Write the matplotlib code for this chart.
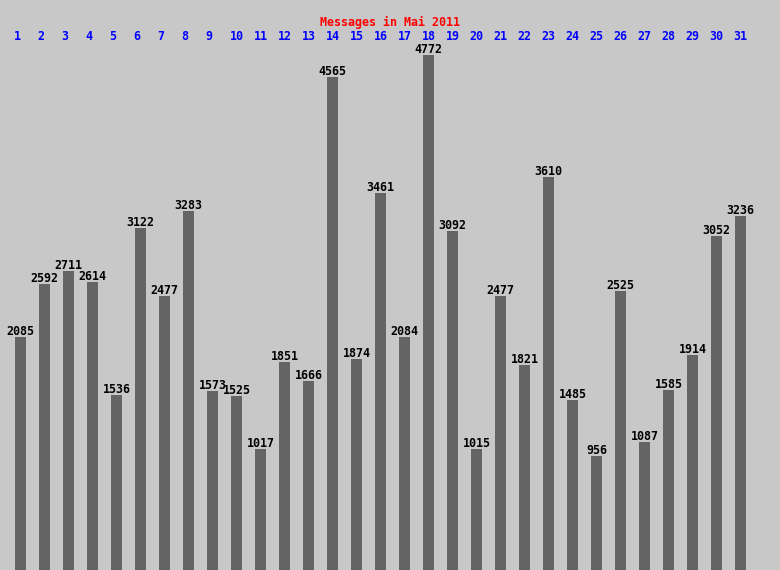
import matplotlib
matplotlib.use("Agg")
import matplotlib.pyplot as plt

days = list(range(1, 32))
day_labels = [str(d) for d in days]
messages = [2085, 2592, 2711, 2614, 1536, 3122, 2477, 3283, 1573, 1525,
            1017, 1851, 1666, 4565, 1874, 3461, 2084, 4772, 3092, 1015,
            2477, 1821, 3610, 1485, 956, 2525, 1087, 1585, 1914, 3052, 3236]
title = "Messages in Mai 2011"

BG = "#c8c8c8"
BAR = "#646464"
FONT = "DejaVu Sans Mono"

fig = plt.figure(figsize=(7.8, 5.7), dpi=100, facecolor=BG)
ax = fig.add_axes([0, 0, 1, 1])
ax.set_facecolor(BG)

# pixel mapping: bar i center at x = 20.5 + (i-1)*24 px ; 24 px per unit
px = 24.0
ax.set_xlim(1 - 20.5 / px, 1 + (780 - 20.5) / px)
# y: 4772 -> y=55px, scale 0.105 px/message
s = 0.105
ymin = 4772 - 515 / s
ymax = 4772 + 55 / s
ax.set_ylim(ymin, ymax)

base = ymin - 50
ax.bar(days, [v - base for v in messages], bottom=base, width=11 / px,
       color=BAR, linewidth=0)

for d, v in zip(days, messages):
    ax.text(d, v + 2 / s, str(v), ha="center", va="baseline",
            fontfamily=FONT, fontweight="bold", fontsize=8.4, color="black")

for d, lab in zip(days, day_labels):
    ax.text(d - 7 / px, 4772 + (55 - 37) / s, lab, ha="left", va="center",
            fontfamily=FONT, fontweight="bold", fontsize=8.4, color="#0000ff")

ax.text(1 + (389.5 - 20.5) / px, 4772 + (55 - 22) / s, title,
        ha="center", va="center", fontfamily=FONT, fontweight="bold",
        fontsize=8.4, color="#ff0000")

ax.axis("off")
fig.savefig("out.png", dpi=100, facecolor=BG)
